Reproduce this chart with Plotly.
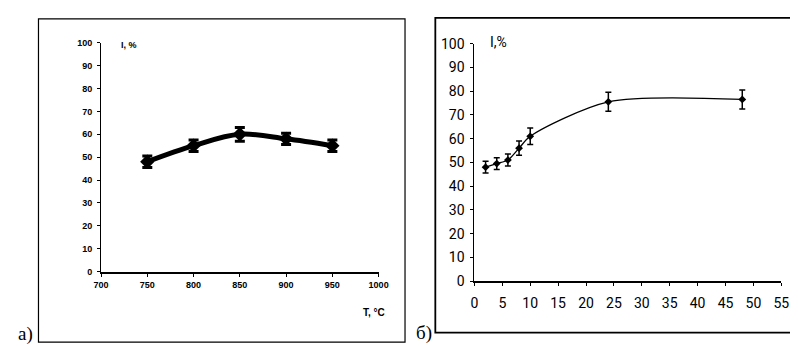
import plotly.graph_objects as go

# Panel a: temperature dependence
temp_a = [750, 800, 850, 900, 950]
yield_a = [48, 55, 60, 58, 55]
err_a = [2.5, 2.5, 3, 2.5, 2.5]
xticks_a = [700, 750, 800, 850, 900, 950, 1000]
yticks = [0, 10, 20, 30, 40, 50, 60, 70, 80, 90, 100]

# Panel b: time dependence
time_b = [2, 4, 6, 8, 10, 24, 48]
yield_b = [48, 49.5, 51, 56, 61, 75.5, 76.5]
err_b = [2.5, 2.5, 2.5, 3, 3.5, 4, 4]
xticks_b = [0, 5, 10, 15, 20, 25, 30, 35, 40, 45, 50, 55]

W, H = 798, 346
def px(x):
    return x / W
def py(y):
    return 1 - y / H

fig = go.Figure()

fig.add_trace(go.Scatter(
    x=temp_a, y=yield_a, mode="lines+markers",
    line=dict(color="black", width=5, shape="spline", smoothing=1.0),
    marker=dict(symbol="diamond", size=11, color="black"),
    error_y=dict(type="data", array=err_a, color="black", thickness=3, width=5),
    xaxis="x", yaxis="y", showlegend=False, hoverinfo="x+y"))

fig.add_trace(go.Scatter(
    x=time_b, y=yield_b, mode="lines+markers",
    line=dict(color="black", width=1.3, shape="spline", smoothing=0.8),
    marker=dict(symbol="diamond", size=6, color="black"),
    error_y=dict(type="data", array=err_b, color="black", thickness=1.5, width=3),
    xaxis="x2", yaxis="y2", showlegend=False, hoverinfo="x+y"))

font_a = dict(family="Liberation Sans, Arial, sans-serif", size=9, color="black", weight="bold")
font_b = dict(family="Roboto, Liberation Sans Narrow, sans-serif", size=14, color="black")

fig.update_layout(
    width=W, height=H,
    margin=dict(l=0, r=0, t=0, b=0),
    paper_bgcolor="white", plot_bgcolor="white",
    xaxis=dict(domain=[px(87), px(371)], range=[700, 1000], tickvals=xticks_a,
               showline=True, linecolor="black", linewidth=2, ticks="outside",
               ticklen=3, tickcolor="black", tickfont=font_a, showgrid=False,
               zeroline=False, anchor="y", ticklabelstandoff=1),
    yaxis=dict(domain=[py(268), py(28)], range=[0, 100], tickvals=yticks,
               showline=True, linecolor="black", linewidth=1, ticks="outside",
               ticklen=3, tickcolor="black", tickfont=font_a, showgrid=False,
               zeroline=False, anchor="x", ticklabelstandoff=3),
    xaxis2=dict(domain=[px(469), px(783)], range=[0, 55], tickvals=xticks_b,
                showline=True, linecolor="black", linewidth=2, ticks="outside",
                ticklen=3, tickcolor="black", tickfont=font_b, showgrid=False,
                zeroline=False, anchor="y2", ticklabelstandoff=5),
    yaxis2=dict(domain=[py(278), py(29)], range=[0, 100], tickvals=yticks,
                showline=True, linecolor="black", linewidth=1, ticks="outside",
                ticklen=3, tickcolor="black", tickfont=font_b, showgrid=False,
                zeroline=False, anchor="x2", ticklabelstandoff=3),
    shapes=[
        dict(type="rect", xref="paper", yref="paper",
             x0=px(23), x1=px(398), y0=py(342), y1=py(3),
             line=dict(color="black", width=1.2)),
        dict(type="rect", xref="paper", yref="paper",
             x0=px(429), x1=px(797), y0=py(332), y1=py(2),
             line=dict(color="black", width=1.8)),
    ],
    annotations=[
        dict(text="I, %", xref="paper", yref="paper", x=px(105), y=py(30),
             xanchor="left", yanchor="middle", showarrow=False, font=font_a),
        dict(text="T, °C", xref="paper", yref="paper", x=px(353), y=py(311),
             xanchor="left", yanchor="middle", showarrow=False,
             font=dict(family="Liberation Sans, Arial, sans-serif", size=10, color="black", weight="bold")),
        dict(text="I,%", xref="paper", yref="paper", x=px(483), y=py(27),
             xanchor="left", yanchor="middle", showarrow=False, font=font_b),
        dict(text="a)", xref="paper", yref="paper", x=px(0), y=py(333),
             xanchor="left", yanchor="middle", showarrow=False,
             font=dict(family="Liberation Serif, Times New Roman, serif", size=19, color="black")),
        dict(text="б)", xref="paper", yref="paper", x=px(407), y=py(332),
             xanchor="left", yanchor="middle", showarrow=False,
             font=dict(family="Liberation Serif, Times New Roman, serif", size=19, color="black")),
    ],
)

fig.write_html("out.html")
